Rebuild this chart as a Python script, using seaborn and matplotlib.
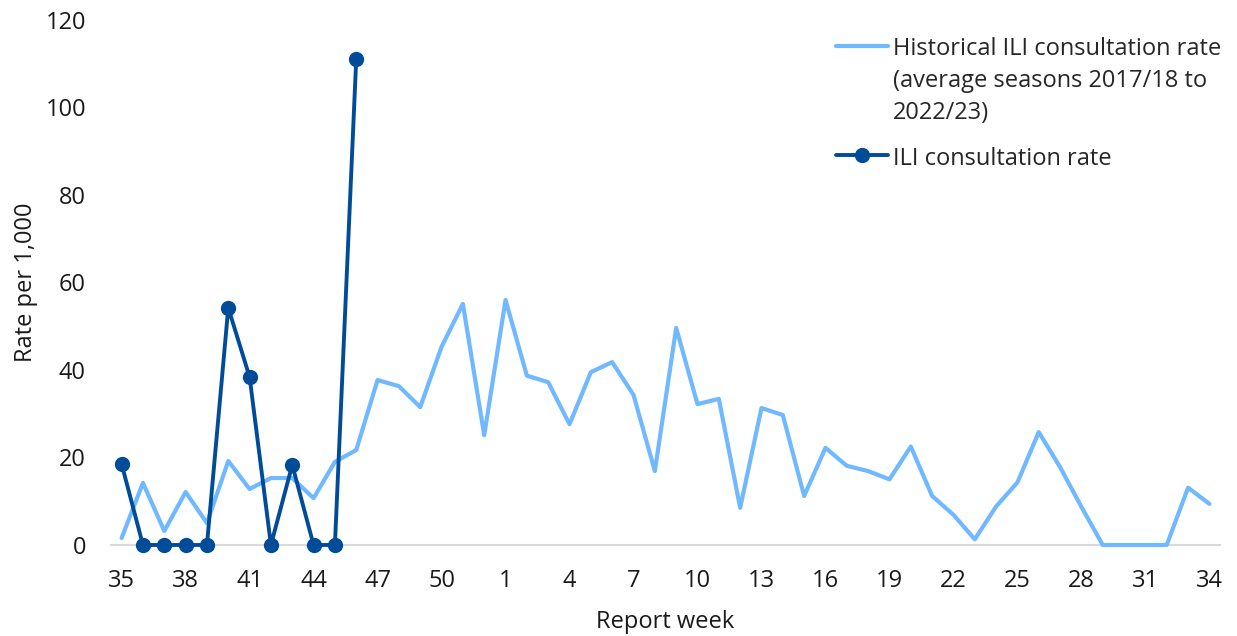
import numpy as np
import pandas as pd
import seaborn as sns
import matplotlib.pyplot as plt

# report weeks, season runs from week 35 to week 34
weeks = list(range(35, 53)) + list(range(1, 35))

historical = [1.6, 14.2, 3.2, 12.1, 5.0, 19.2, 12.8, 15.3, 15.3, 10.7,
              19.0, 21.7, 37.7, 36.3, 31.5, 45.3, 55.1, 25.1, 56.0, 38.7,
              37.2, 27.6, 39.5, 41.8, 34.3, 16.9, 49.6, 32.2, 33.4, 8.5,
              31.3, 29.7, 11.2, 22.2, 18.1, 16.9, 15.0, 22.5, 11.2, 6.9,
              1.3, 8.8, 14.3, 25.8, 17.8, 8.7, 0.0, 0.0, 0.0, 0.0,
              13.1, 9.4]

ili_rate = [18.5, 0.0, 0.0, 0.0, 0.0, 54.2, 38.4, 0.0, 18.3, 0.0, 0.0, 111.1]

hist_label = "Historical ILI consultation rate\n(average seasons 2017/18 to\n2022/23)"
ili_label = "ILI consultation rate"

LIGHT = "#70B8FF"
DARK = "#004C99"
FS = 17

df_hist = pd.DataFrame({"pos": np.arange(len(weeks)), "rate": historical})
df_ili = pd.DataFrame({"pos": np.arange(len(ili_rate)), "rate": ili_rate})

sns.set_style("white")
plt.rcParams["font.family"] = ["Open Sans", "DejaVu Sans"]

fig = plt.figure(figsize=(12.37, 6.36), dpi=100)
ax = fig.add_axes([0.0897, 0.1431, 0.8966, 0.8255])

sns.lineplot(data=df_hist, x="pos", y="rate", ax=ax, color=LIGHT,
             linewidth=3, label=hist_label, clip_on=False)
sns.lineplot(data=df_ili, x="pos", y="rate", ax=ax, color=DARK,
             linewidth=2.8, marker="o", markersize=11, markeredgewidth=0,
             label=ili_label, clip_on=False)

ax.set_xlim(-0.5, len(weeks) - 0.5)
ax.set_ylim(0, 120)
ax.set_yticks(range(0, 121, 20))
ax.set_xticks(np.arange(0, len(weeks), 3))
ax.set_xticklabels([str(w) for w in weeks[::3]])
ax.tick_params(axis="both", labelsize=FS, length=0, colors="#1a1a1a")
ax.tick_params(axis="x", pad=17.5)
ax.tick_params(axis="y", pad=18)

for s in ["top", "right", "left"]:
    ax.spines[s].set_visible(False)
ax.spines["bottom"].set_color("#D9D9D9")
ax.spines["bottom"].set_linewidth(1.5)
ax.spines["bottom"].set_zorder(0)

ax.set_xlabel("Report week", fontsize=FS, color="#1a1a1a", labelpad=12)
ax.set_ylabel("Rate per 1,000", fontsize=FS, color="#1a1a1a", labelpad=5)

leg = ax.legend(loc="upper right", bbox_to_anchor=(1.014, 0.994), frameon=False,
                fontsize=FS, handlelength=2.2, handletextpad=0.2,
                labelspacing=0.89, borderaxespad=0.2)
for t in leg.get_texts():
    t.set_linespacing(1.45)
# keep the handle next to the first line of a wrapped label
for col in leg._legend_handle_box.get_children():
    for row in col.get_children():
        row.align = "top"

fig.savefig("out.png", dpi=100)
